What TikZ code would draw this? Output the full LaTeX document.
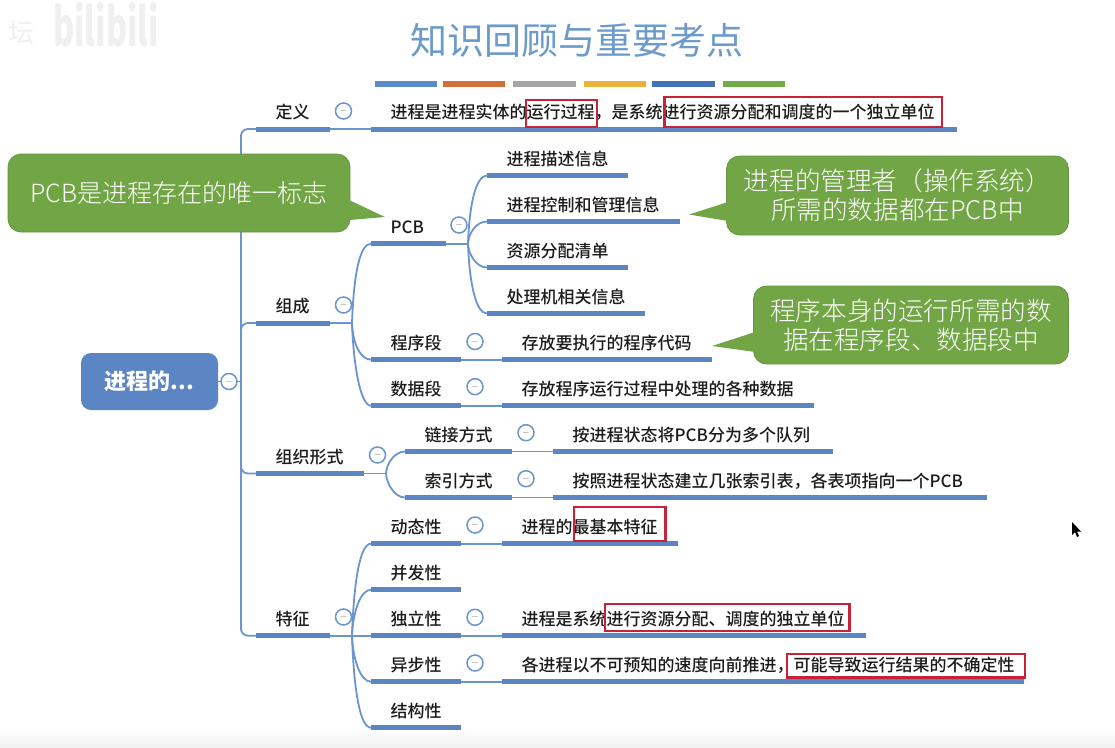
\documentclass[tikz,border=0pt]{standalone}
\usepackage{fontspec}
\setmainfont{Noto Sans CJK SC}
\newfontfamily\notefont{Noto Sans CJK SC Light}
\newfontfamily\mapfont{Noto Sans CJK SC Medium}
\usetikzlibrary{positioning}
\definecolor{mapblue}{HTML}{5B86C3}
\definecolor{linkblue}{HTML}{6B95CC}
\definecolor{notegreen}{HTML}{72A545}
\definecolor{markred}{HTML}{C8213A}
\definecolor{titleblue}{HTML}{6C9BCB}
\definecolor{inkgray}{HTML}{1C1C1C}
\tikzset{
  bar/.style={draw=mapblue, line width=5pt},
  link/.style={draw=linkblue, line width=1.8pt},
  topic/.style={anchor=south west, inner sep=0pt, text width=#1pt, text height=14pt, text depth=10pt,
    text=inkgray, font=\mapfont\fontsize{17}{20}\selectfont, execute at begin node={\hspace*{19.5pt}},
    append after command={(\tikzlastnode.south west) edge[bar] (\tikzlastnode.south east)}},
  fold/.style={circle, draw=linkblue, fill=white, line width=1.5pt, minimum size=16pt, inner sep=0pt,
    text=black!55, font=\fontsize{10}{10}\selectfont},
  note/.style={rounded corners=13pt, fill=notegreen, draw=notegreen!90!black, line width=.8pt, text=white,
    align=center, inner sep=0pt, font=\notefont\fontsize{25.6}{29}\selectfont},
  hilite/.style={draw=markred, line width=2.8pt},
  up/.style={out=88, in=180, out distance=#1pt, in distance=11pt},
  down/.style={out=-88, in=180, out distance=#1pt, in distance=11pt},
  swatch/.style={line width=6pt}
}
\begin{document}
\begin{tikzpicture}[x=1pt, y=-1pt]
  \fill[white] (0,0) rectangle (1115,747);
  \useasboundingbox (0,0) rectangle (1115,747);
  \shade[top color=white, bottom color=black!6] (0,728) rectangle (1115,747);

  % watermark and title
  \node[text=black!6, font=\fontsize{26}{26}\selectfont] (wmark) at (22,33) {坛};
  \node[text=black!6, xscale=.85, yscale=1.4, transform shape, font=\bfseries\fontsize{38}{38}\selectfont] (wlogo) at (106,25) {bilibili};
  \node[text=titleblue, font=\fontsize{37}{40}\selectfont] (title) at (576.5,40.5) {知识回顾与重要考点};
  \draw[swatch, color={rgb,255:red,91;green,139;blue,201}] (375,84) -- (437,84);
  \draw[swatch, color={rgb,255:red,210;green,112;blue,58}] (443,84) -- (505,84);
  \draw[swatch, color={rgb,255:red,165;green,165;blue,165}] (513,84) -- (576,84);
  \draw[swatch, color={rgb,255:red,237;green,177;blue,58}] (584,84) -- (646,84);
  \draw[swatch, color={rgb,255:red,68;green,114;blue,184}] (652,84) -- (715,84);
  \draw[swatch, color={rgb,255:red,112;green,173;blue,71}] (723,84) -- (785,84);

  % root
  \node[fill=mapblue, rounded corners=10pt, minimum width=137pt, minimum height=57pt, inner sep=0pt,
    text=white, font=\bfseries\fontsize{22}{24}\selectfont] (root) at (149.5,381.5) {进程的...};

  % first level
  \node[topic=74] (define) at (256,129) {定义};
  \node[topic=74] (parts) at (256,323) {组成};
  \node[topic=108] (forms) at (256,473.5) {组织形式};
  \node[topic=74] (traits) at (256,635.7) {特征};

  % second level
  \node[topic=585.5] (definetext) at (371,129) {进程是进程实体的运行过程，是系统进行资源分配和调度的一个独立单位};
  \node[topic=75] (pcb) at (371,243.7) {PCB};
  \node[topic=90] (prog) at (371,359.6) {程序段};
  \node[topic=90] (data) at (371,405.7) {数据段};
  \node[topic=107] (linked) at (405,451.5) {链接方式};
  \node[topic=107] (indexed) at (405,497.5) {索引方式};
  \node[topic=90] (dynamic) at (371,543.7) {动态性};
  \node[topic=90] (concur) at (371,589.7) {并发性};
  \node[topic=90] (indep) at (371,635.7) {独立性};
  \node[topic=90] (asyncr) at (371,681.7) {异步性};
  \node[topic=90] (struct) at (371,727.7) {结构性};

  % third level
  \node[topic=141] (pcbdesc) at (487,175.5) {进程描述信息};
  \node[topic=193] (pcbctrl) at (487,221.5) {进程控制和管理信息};
  \node[topic=141] (pcbres) at (487,267.5) {资源分配清单};
  \node[topic=158] (pcbcpu) at (487,313.5) {处理机相关信息};
  \node[topic=210] (progtext) at (502,359.6) {存放要执行的程序代码};
  \node[topic=312] (datatext) at (502,405.7) {存放程序运行过程中处理的各种数据};
  \node[topic=280] (linkedtext) at (553,451.5) {按进程状态将PCB分为多个队列};
  \node[topic=433.5] (indexedtext) at (553,497.5) {按照进程状态建立几张索引表，各表项指向一个PCB};
  \node[topic=175.5] (dynamictext) at (502,543.7) {进程的最基本特征};
  \node[topic=363.5] (indeptext) at (502,635.7) {进程是系统进行资源分配、调度的独立单位};
  \node[topic=522] (asyncrtext) at (502,681.7) {各进程以不可预知的速度向前推进，可能导致运行结果的不确定性};

  % junctions
  \coordinate (rootjoin) at (241,381.5);
  \coordinate (partsjoin) at (352,323);
  \coordinate (formsjoin) at (386,473.5);
  \coordinate (traitsjoin) at (352,635.7);
  \coordinate (pcbjoin) at (468,243.7);

  % connectors
  \draw[link] (root.east) -- (rootjoin);
  \draw[link, rounded corners=7pt] (rootjoin) |- (define.south west);
  \draw[link, rounded corners=7pt] (rootjoin) |- (parts.south west);
  \draw[link, rounded corners=7pt] (rootjoin) |- (forms.south west);
  \draw[link, rounded corners=7pt] (rootjoin) |- (traits.south west);
  \draw[link] (define.south east) -- (definetext.south west);
  \draw[link] (parts.south east) -- (partsjoin);
  \draw[link] (partsjoin) to[up=50] (pcb.south west);
  \draw[link] (partsjoin) to[down=20] (prog.south west);
  \draw[link] (partsjoin) to[down=40] (data.south west);
  \draw[link] (pcb.south east) -- (pcbjoin);
  \draw[link] (pcbjoin) to[up=40] (pcbdesc.south west);
  \draw[link] (pcbjoin) to[up=10] (pcbctrl.south west);
  \draw[link] (pcbjoin) to[down=10] (pcbres.south west);
  \draw[link] (pcbjoin) to[down=40] (pcbcpu.south west);
  \draw[link] (prog.south east) -- (progtext.south west);
  \draw[link] (data.south east) -- (datatext.south west);
  \draw[link] (forms.south east) -- (formsjoin);
  \draw[link] (formsjoin) to[up=9] (linked.south west);
  \draw[link] (formsjoin) to[down=9] (indexed.south west);
  \draw[link] (linked.south east) -- (linkedtext.south west);
  \draw[link] (indexed.south east) -- (indexedtext.south west);
  \draw[link] (traits.south east) -- (traitsjoin);
  \draw[link] (traitsjoin) to[up=55] (dynamic.south west);
  \draw[link] (traitsjoin) to[up=22] (concur.south west);
  \draw[link] (traitsjoin) -- (indep.south west);
  \draw[link] (traitsjoin) to[down=22] (asyncr.south west);
  \draw[link] (traitsjoin) to[down=55] (struct.south west);
  \draw[link] (dynamic.south east) -- (dynamictext.south west);
  \draw[link] (indep.south east) -- (indeptext.south west);
  \draw[link] (asyncr.south east) -- (asyncrtext.south west);

  % collapse marks
  \node[fold] (foldroot) at (229,381.5) {$-$};
  \node[fold] (folddefine) at (343.5,111) {$-$};
  \node[fold] (foldparts) at (343.5,305) {$-$};
  \node[fold] (foldforms) at (377.5,455) {$-$};
  \node[fold] (foldtraits) at (343.5,617) {$-$};
  \node[fold] (foldpcb) at (459,225) {$-$};
  \node[fold] (foldprog) at (475,341.5) {$-$};
  \node[fold] (folddata) at (475,386.7) {$-$};
  \node[fold] (foldlinked) at (526,432.7) {$-$};
  \node[fold] (foldindexed) at (526,478.7) {$-$};
  \node[fold] (folddynamic) at (475,525) {$-$};
  \node[fold] (foldindep) at (475,617.3) {$-$};
  \node[fold] (foldasyncr) at (475,663) {$-$};

  % red frames
  \draw[hilite] (526,100) rectangle (597,127);
  \draw[hilite] (664.5,97) rectangle (942,127);
  \draw[hilite] (574,507) rectangle (665.5,541);
  \draw[hilite] (605,604) rectangle (849.5,631);
  \draw[hilite] (787,654) rectangle (1025,677.5);

  % green notes
  \coordinate (pcbtip) at (385,217);
  \coordinate (ctrltip) at (689,214.5);
  \coordinate (datatip) at (712,346);
  \node[note, minimum width=342pt, minimum height=78pt, font=\notefont\fontsize{25}{29}\selectfont] (pcbnote) at (179,193) {PCB是进程存在的唯一标志};
  \node[note, minimum width=342pt, minimum height=79pt] (ctrlnote) at (897.5,195.5) {进程的管理者（操作系统）\\所需的数据都在PCB中};
  \node[note, minimum width=315pt, minimum height=78pt] (datanote) at (911,325) {程序本身的运行所需的数\\据在程序段、数据段中};
  \fill[notegreen] (349,200) -- (pcbtip) -- (349,220) -- cycle;
  \fill[notegreen] (728,202) -- (ctrltip) -- (728,221) -- cycle;
  \fill[notegreen] (755,332) -- (datatip) -- (755,352) -- cycle;

  % pointer
  \fill[black] (1072,522) -- (1072,535) -- (1075,532) -- (1077,537) -- (1079,536) -- (1077,531.5) -- (1081,531.5) -- cycle;
\end{tikzpicture}
\end{document}
